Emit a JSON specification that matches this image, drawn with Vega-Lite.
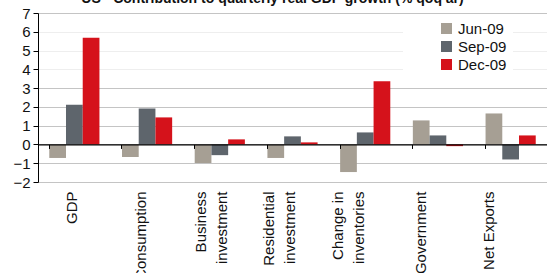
{
  "$schema": "https://vega.github.io/schema/vega-lite/v6.json",
  "width": 509,
  "height": 169,
  "autosize": {"type": "none"},
  "padding": {"left": 38, "top": 13, "right": 0, "bottom": 91},
  "background": "white",
  "title": {
    "text": "US - Contribution to quarterly real GDP growth (% qoq ar)",
    "font": "Liberation Sans",
    "fontSize": 14,
    "fontWeight": "bold",
    "color": "#111111",
    "anchor": "middle",
    "dx": -20,
    "offset": 0
  },
  "config": {
    "view": {"stroke": null},
    "font": "Liberation Sans"
  },
  "data": {
    "values": [
      {"cat": "GDP", "q": "Jun-09", "v": -0.72},
      {"cat": "GDP", "q": "Sep-09", "v": 2.12},
      {"cat": "GDP", "q": "Dec-09", "v": 5.68},
      {"cat": "Consumption", "q": "Jun-09", "v": -0.67},
      {"cat": "Consumption", "q": "Sep-09", "v": 1.91},
      {"cat": "Consumption", "q": "Dec-09", "v": 1.44},
      {"cat": "Business investment", "q": "Jun-09", "v": -0.99},
      {"cat": "Business investment", "q": "Sep-09", "v": -0.57},
      {"cat": "Business investment", "q": "Dec-09", "v": 0.27},
      {"cat": "Residential investment", "q": "Jun-09", "v": -0.72},
      {"cat": "Residential investment", "q": "Sep-09", "v": 0.43},
      {"cat": "Residential investment", "q": "Dec-09", "v": 0.11},
      {"cat": "Change in inventories", "q": "Jun-09", "v": -1.47},
      {"cat": "Change in inventories", "q": "Sep-09", "v": 0.64},
      {"cat": "Change in inventories", "q": "Dec-09", "v": 3.37},
      {"cat": "Government", "q": "Jun-09", "v": 1.28},
      {"cat": "Government", "q": "Sep-09", "v": 0.48},
      {"cat": "Government", "q": "Dec-09", "v": -0.09},
      {"cat": "Net Exports", "q": "Jun-09", "v": 1.65},
      {"cat": "Net Exports", "q": "Sep-09", "v": -0.8},
      {"cat": "Net Exports", "q": "Dec-09", "v": 0.48}
    ]
  },
  "resolve": {"axis": {"x": "independent"}},
  "layer": [
    {
      "mark": {"type": "bar"},
      "encoding": {
        "x": {
          "field": "cat",
          "type": "nominal",
          "sort": null,
          "scale": {"paddingInner": 0.31, "paddingOuter": 0.155},
          "axis": {
            "orient": "bottom",
            "title": null,
            "domain": false,
            "ticks": false,
            "labelAngle": -90,
            "labelFontSize": 15,
            "labelColor": "#111111",
            "labelPadding": 9,
            "labelOffset": {
              "condition": [
                {"test": "datum.value == 'GDP'", "value": -2},
                {"test": "datum.value == 'Consumption'", "value": -6},
                {"test": "datum.value == 'Business investment'", "value": -19},
                {"test": "datum.value == 'Residential investment'", "value": -24},
                {"test": "datum.value == 'Change in inventories'", "value": -27},
                {"test": "datum.value == 'Government'", "value": -17}
              ],
              "value": -22
            },
            "labelLineHeight": 21,
            "labelLimit": 200,
            "labelExpr": "datum.label == 'Business investment' ? ['Business', 'investment'] : datum.label == 'Residential investment' ? ['Residential', 'investment'] : datum.label == 'Change in inventories' ? ['Change in', 'inventories'] : datum.label"
          }
        },
        "xOffset": {
          "field": "q",
          "type": "nominal",
          "sort": ["Jun-09", "Sep-09", "Dec-09"],
          "scale": {"paddingInner": 0, "paddingOuter": 0}
        },
        "y": {
          "field": "v",
          "type": "quantitative",
          "scale": {"domain": [-2, 7], "nice": false},
          "axis": {
            "title": null,
            "values": [-2, -1, 0, 1, 2, 3, 4, 5, 6, 7],
            "labelOverlap": false,
            "domainColor": "#000000",
            "tickColor": "#000000",
            "tickSize": 5,
            "labelPadding": 3,
            "labelFontSize": 15,
            "labelColor": "#111111",
            "gridColor": {"condition": {"test": "datum.value >= 4 && datum.value <= 6", "value": "#eeeeee"}, "value": "#c4c4c4"},
            "gridWidth": 1
          }
        },
        "color": {
          "field": "q",
          "type": "nominal",
          "scale": {"domain": ["Jun-09", "Sep-09", "Dec-09"], "range": ["#A69F94", "#5E656C", "#D5121B"]},
          "legend": {
            "title": null,
            "orient": "none",
            "legendX": 365,
            "legendY": 2,
            "padding": 6,
            "fillColor": "white",
            "symbolType": "square",
            "symbolSize": 121,
            "symbolStrokeWidth": 0,
            "symbolOffset": 30,
            "labelFontSize": 15,
            "labelColor": "#111111",
            "labelOffset": 4,
            "rowPadding": 2
          }
        }
      }
    },
    {
      "mark": {"type": "bar", "opacity": 0},
      "encoding": {
        "x": {
          "field": "cat",
          "type": "nominal",
          "sort": null,
          "axis": {
            "orient": "bottom",
            "title": null,
            "offset": -37.56,
            "labels": false,
            "domain": true,
            "domainColor": "#000000",
            "domainWidth": 1.2,
            "ticks": true,
            "tickColor": "#000000",
            "tickSize": 4,
            "bandPosition": 0,
            "zindex": 1
          }
        }
      }
    }
  ]
}
